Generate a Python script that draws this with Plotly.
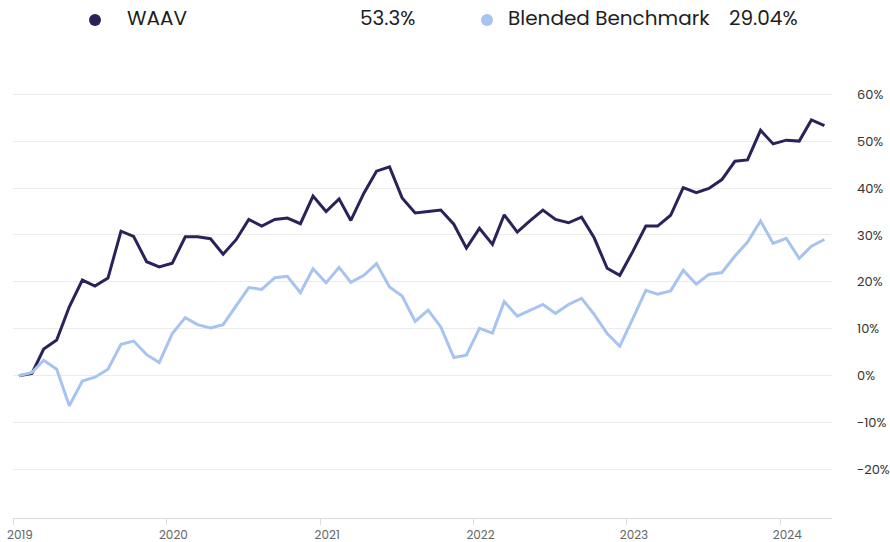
import plotly.graph_objects as go

months = [f"{y}-{m:02d}-15" for y in range(2019, 2025) for m in range(1, 13)][:64]

waav = [
    0.0, 0.5, 5.7, 7.6, 14.7, 20.4, 19.1, 20.8, 30.8, 29.7, 24.3, 23.2,
    24.0, 29.6, 29.6, 29.2, 25.9, 29.0, 33.3, 31.9, 33.3, 33.6, 32.4, 38.3,
    35.0, 37.7, 33.1, 38.9, 43.6, 44.5, 37.9, 34.7, 35.0, 35.3, 32.3, 27.2,
    31.4, 28.0, 34.3, 30.6, 33.0, 35.3, 33.3, 32.6, 33.8, 29.4, 22.9, 21.4,
    26.5, 31.9, 31.9, 34.2, 40.1, 39.0, 39.9, 41.8, 45.7, 46.0, 52.3, 49.4,
    50.2, 50.0, 54.5, 53.3,
]
benchmark = [
    0.0, 0.7, 3.3, 1.4, -6.4, -1.1, -0.3, 1.4, 6.7, 7.4, 4.5, 2.8,
    9.0, 12.4, 10.9, 10.2, 10.9, 14.8, 18.8, 18.4, 20.9, 21.2, 17.7, 22.8,
    19.8, 23.1, 19.9, 21.4, 23.9, 18.9, 17.0, 11.6, 14.0, 10.4, 3.9, 4.4,
    10.1, 9.1, 15.8, 12.7, 14.0, 15.2, 13.3, 15.2, 16.5, 13.1, 9.0, 6.3,
    12.2, 18.2, 17.4, 18.1, 22.5, 19.5, 21.6, 22.0, 25.5, 28.5, 33.0, 28.2,
    29.3, 25.0, 27.6, 29.04,
]
series_names = ["WAAV", "Blended Benchmark"]
series_colors = ["#2b2259", "#a6c4ef"]
y_ticks = [-20, -10, 0, 10, 20, 30, 40, 50, 60]
y_tick_labels = ["-20%", "-10%", "0%", "10%", "20%", "30%", "40%", "50%", "60%"]
x_ticks = ["2019-01-01", "2020-01-01", "2021-01-01", "2022-01-01", "2023-01-01", "2024-01-01"]
x_tick_labels = ["2019", "2020", "2021", "2022", "2023", "2024"]

FONT = "Poppins, 'Noto Sans', 'Open Sans', sans-serif"

fig = go.Figure()
for name, vals, col in zip(series_names, [waav, benchmark], series_colors):
    fig.add_trace(go.Scatter(
        x=months, y=vals, mode="lines", name=name,
        line=dict(color=col, width=3), hoverinfo="skip",
    ))

W, H = 890, 542
ml, mr, mt, mb = 13, 58, 66, 24

fig.update_layout(
    width=W, height=H,
    margin=dict(l=ml, r=mr, t=mt, b=mb, autoexpand=False),
    paper_bgcolor="white", plot_bgcolor="white",
    showlegend=False,
    font=dict(family=FONT, color="#222"),
    xaxis=dict(
        type="date", range=["2019-01-01", "2024-05-03"],
        tickvals=x_ticks, ticktext=x_tick_labels,
        showgrid=False, zeroline=False, automargin=False,
        showline=True, linecolor="#dddddd", linewidth=1,
        ticks="outside", ticklen=6, tickcolor="#dddddd",
        tickfont=dict(size=12, color="#666"),
        ticklabelshift=7, ticklabelstandoff=0,
    ),
    yaxis=dict(
        side="right", range=[-30.3, 66], automargin=False,
        tickvals=y_ticks, ticktext=y_tick_labels,
        showgrid=True, gridcolor="#ebebeb", gridwidth=1,
        zeroline=False, showline=False, ticks="",
        tickfont=dict(size=13, color="#333"),
        ticklabelstandoff=24,
    ),
)

# legend (custom row)
last_vals = [waav[-1], benchmark[-1]]
dot_x = [95, 487]
name_x = [125, 506]
val_right_x = [418, 800]
legend_y = 18
pw, ph = W - ml - mr, H - mt - mb
for i in range(2):
    fig.add_shape(
        type="circle", xref="paper", yref="paper",
        x0=(dot_x[i] - 6 - ml) / pw, x1=(dot_x[i] + 6 - ml) / pw,
        y0=(H - mb - (legend_y + 2 + 6)) / ph, y1=(H - mb - (legend_y + 2 - 6)) / ph,
        fillcolor=series_colors[i], line=dict(width=0),
    )
    fig.add_annotation(
        xref="paper", yref="paper",
        x=(name_x[i] - ml) / pw, y=(H - mb - legend_y) / ph,
        text=series_names[i], showarrow=False, xanchor="left", yanchor="middle",
        font=dict(size=20, color="#1e1e1e", family=FONT),
    )
    fig.add_annotation(
        xref="paper", yref="paper",
        x=(val_right_x[i] - ml) / pw, y=(H - mb - legend_y) / ph,
        text=f"{last_vals[i]}%", showarrow=False, xanchor="right", yanchor="middle",
        font=dict(size=20, color="#1e1e1e", family=FONT),
    )

fig.write_html(
    "out.html",
    config={"displayModeBar": False},
    post_script="document.body.style.margin='0px';document.body.style.padding='0px';",
)
